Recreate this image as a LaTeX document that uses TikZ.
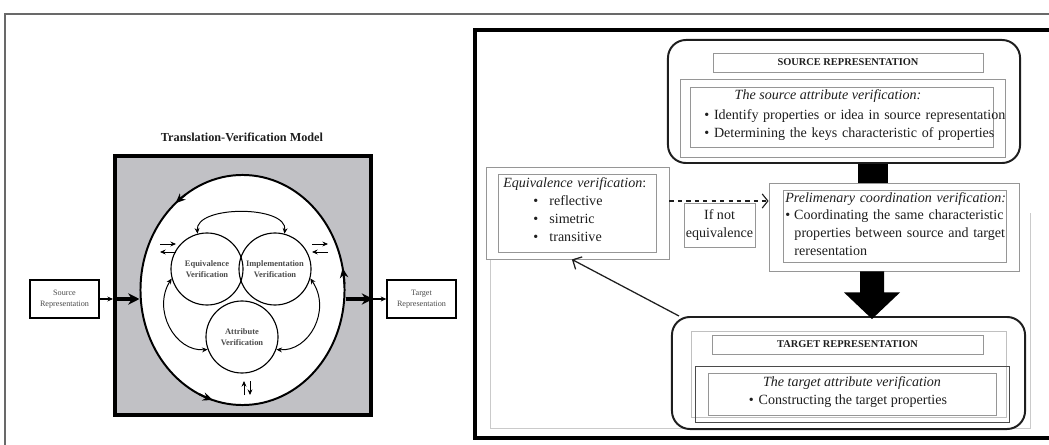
\documentclass[tikz,border=0pt]{standalone}
\usepackage{fontspec}
\setmainfont{Liberation Serif}
\usetikzlibrary{shapes.geometric,arrows.meta,calc}
\definecolor{panelgray}{RGB}{193,193,197}
\definecolor{framegray}{RGB}{150,150,150}
\definecolor{inkgray}{RGB}{30,30,30}
\newcommand{\blt}[1][0.12cm]{\textbullet\hspace{#1}}
\begin{document}
\begin{tikzpicture}[x=0.025cm,y=-0.025cm,>={Stealth[length=4pt,width=3.5pt]},
	thinbox/.style={draw=framegray,line width=0.6pt,inner sep=0pt},
	roundbox/.style={draw=inkgray,line width=1.4pt,rounded corners=0.45cm,inner sep=0pt},
	bodytext/.style={font=\fontsize{10}{12.8}\selectfont,text=inkgray,inner sep=0pt},
	headtext/.style={font=\fontsize{7.4}{8}\selectfont\bfseries,text=inkgray},
	tinytext/.style={font=\fontsize{5.8}{7.6}\selectfont,text=inkgray!80,align=center},
	vcircle/.style={circle,draw,line width=0.8pt,minimum size=1.8cm,inner sep=0pt,align=center,font=\fontsize{6}{7.6}\selectfont\bfseries,text=inkgray!80}]
		\useasboundingbox (0,0) rectangle (1049,445);
		\draw[framegray!70!black,line width=1pt] (5,445)--(5,14)--(1049,14);
		% left panel: the model
		\node[font=\fontsize{8.7}{10}\selectfont\bfseries,text=inkgray] (title) at (242,137) {Translation-Verification Model};
		\node[draw,fill=panelgray,line width=2.8pt,minimum width=6.4cm,minimum height=6.475cm] (frame) at (243,285.5) {};
		\node[ellipse,draw,fill=white,line width=1.4pt,minimum width=5.1cm,minimum height=5.75cm,inner sep=0pt] (loop) at (242.5,290) {};
		\foreach \a/\b in {236/229,115/107,357/349}{
			\draw[line width=1.4pt,-{Stealth[length=7pt,width=6pt]}] plot[domain=\a:\b,samples=4](({242.5+102*cos(\x)},{290+115*sin(\x)});
		}
		\node[vcircle] (equ) at (207,269) {Equivalence\\Verification};
		\node[vcircle] (imp) at (275,269) {Implementation\\Verification};
		\node[vcircle] (attr) at (242,337) {Attribute\\Verification};
		\draw[<->,line width=0.7pt] (equ.105) .. controls (195,205) and (288,205) .. (imp.75);
		\draw[<->,line width=0.7pt] (equ.195) .. controls (152,310) and (175,352) .. (attr.200);
		\draw[<->,line width=0.7pt] (imp.345) .. controls (332,310) and (309,352) .. (attr.340);
		\coordinate (swapl) at (168,248);
		\coordinate (swapr) at (320,248);
		\coordinate (swapb) at (247,388);
		\foreach \s in {swapl,swapr}{
			\draw[->,line width=0.7pt] ($(\s)+(-8,-4)$)--($(\s)+(8,-4)$);
			\draw[->,line width=0.7pt] ($(\s)+(8,4)$)--($(\s)+(-8,4)$);
		}
		\draw[->,line width=0.7pt] ($(swapb)+(-3,7)$)--($(swapb)+(-3,-7)$);
		\draw[->,line width=0.7pt] ($(swapb)+(3,-7)$)--($(swapb)+(3,7)$);
		\node[draw,line width=0.9pt,minimum width=1.725cm,minimum height=0.95cm,tinytext] (src) at (64.5,299) {Source\\Representation};
		\node[draw,line width=0.9pt,minimum width=1.725cm,minimum height=0.95cm,tinytext] (tgt) at (421.5,299) {Target\\Representation};
		\draw[->,line width=1pt] (src.east)--(src.east -| frame.west);
		\draw[line width=2.2pt,-{Stealth[length=8pt,width=8pt]}] (src.east -| frame.west)--(src.east -| loop.west);
		\draw[line width=2.2pt,-{Stealth[length=8pt,width=8pt]}] (tgt.west -| loop.east)--(tgt.west -| frame.east);
		\draw[->,line width=1pt] (tgt.west -| frame.east)--(tgt.west);
		% right panel: the steps
		\draw[line width=2.2pt] (1049,30)--(475,30)--(475,438)--(1049,438);
		\draw[framegray!50,line width=0.6pt] (490,260)--(490,428)--(1030,428)--(1030,213);
		\node[roundbox,minimum width=8.8cm,minimum height=3.075cm] (srcbox) at (844,101.5) {};
		\node[thinbox,minimum width=6.75cm,minimum height=0.475cm,headtext] (srctitle) at (848,62.5) {SOURCE REPRESENTATION};
		\node[thinbox,minimum width=8.125cm,minimum height=1.95cm] (srcouter) at (842.5,118) {};
		\node[thinbox,minimum width=7.575cm,minimum height=1.5cm] (srcinner) at (841.5,117) {};
		\node[bodytext,anchor=base] (srchead) at (828,100) {\textit{The source attribute verification:}};
		\node[bodytext,text width=8cm,align=left,anchor=base west] (srclist) at (704,120) {\blt Identify properties or idea in source representation\\\blt Determining the keys characteristic of properties};
		\node[thinbox,minimum width=4.575cm,minimum height=2.3cm] (equbox) at (577.5,213) {};
		\node[thinbox,minimum width=3.95cm,minimum height=1.95cm] (equin) at (577,213) {};
		\node[bodytext,text width=4cm,align=left,anchor=base west] (equlist) at (503,188) {\textit{Equivalence verification}:\\\hspace*{0.75cm}\blt[0.28cm]reflective\\\hspace*{0.75cm}\blt[0.28cm]simetric\\\hspace*{0.75cm}\blt[0.28cm]transitive};
		\node[thinbox,minimum width=6.25cm,minimum height=2.2cm] (prelim) at (894,227) {};
		\node[thinbox,minimum width=5.575cm,minimum height=1.8cm] (prelimin) at (894.5,226) {};
		\node[bodytext,text width=6.2cm,align=left,anchor=base west] (prelimlist) at (785,202) {\textit{Prelimenary coordination verification:}\\\blt[0.1cm]Coordinating the same characteristic\\\hspace*{0.23cm}properties between source and target\\\hspace*{0.23cm}reresentation};
		\node[thinbox,minimum width=1.775cm,minimum height=1.1cm,bodytext,align=center] (ifnot) at (719.5,225) {If not\\equivalence};
		\node[roundbox,minimum width=8.825cm,minimum height=2.8cm] (tgtbox) at (848.5,373) {};
		\node[thinbox,draw=framegray!60,minimum width=7.875cm,minimum height=2.15cm] (tgtshade) at (848.5,374) {};
		\node[thinbox,minimum width=6.775cm,minimum height=0.475cm,headtext] (tgttitle) at (847.5,344.5) {TARGET REPRESENTATION};
		\node[thinbox,draw=inkgray!80,minimum width=7.85cm,minimum height=1.4cm] (tgtouter) at (852,394) {};
		\node[thinbox,minimum width=7.2cm,minimum height=1.05cm] (tgtinner) at (852,394) {};
		\node[bodytext,anchor=base] (tgthead) at (852,386) {\textit{The target attribute verification}};
		\node[bodytext,anchor=base] (tgtitem) at (848,404) {\blt Constructing the target properties};
		% connectors
		\draw[dashed,inkgray,line width=0.8pt,-{Straight Barb[length=4pt,width=10pt]}] ([yshift=0.3cm]equbox.east)--([yshift=0.3cm]equbox.east -| prelim.west);
		\draw[line width=0.75cm] ([xshift=0.725cm]srcbox.south)--([xshift=0.725cm]srcbox.south |- prelim.north);
		\coordinate (drop) at ([xshift=-0.55cm]prelim.south);
		\fill ($(drop)+(-12,0)$)--($(drop)+(12,0)$)--($(drop)+(12,21)$)--($(drop)+(28,21)$)--($(drop |- tgtbox.north)+(0,3)$)--($(drop)+(-28,21)$)--($(drop)+(-12,21)$)--cycle;
		\draw[inkgray,line width=0.9pt,-{Straight Barb[length=5pt,width=10pt]}] ([xshift=0.2cm]tgtbox.north west)--([xshift=-0.14cm]equbox.south);
	\end{tikzpicture}
\end{document}
